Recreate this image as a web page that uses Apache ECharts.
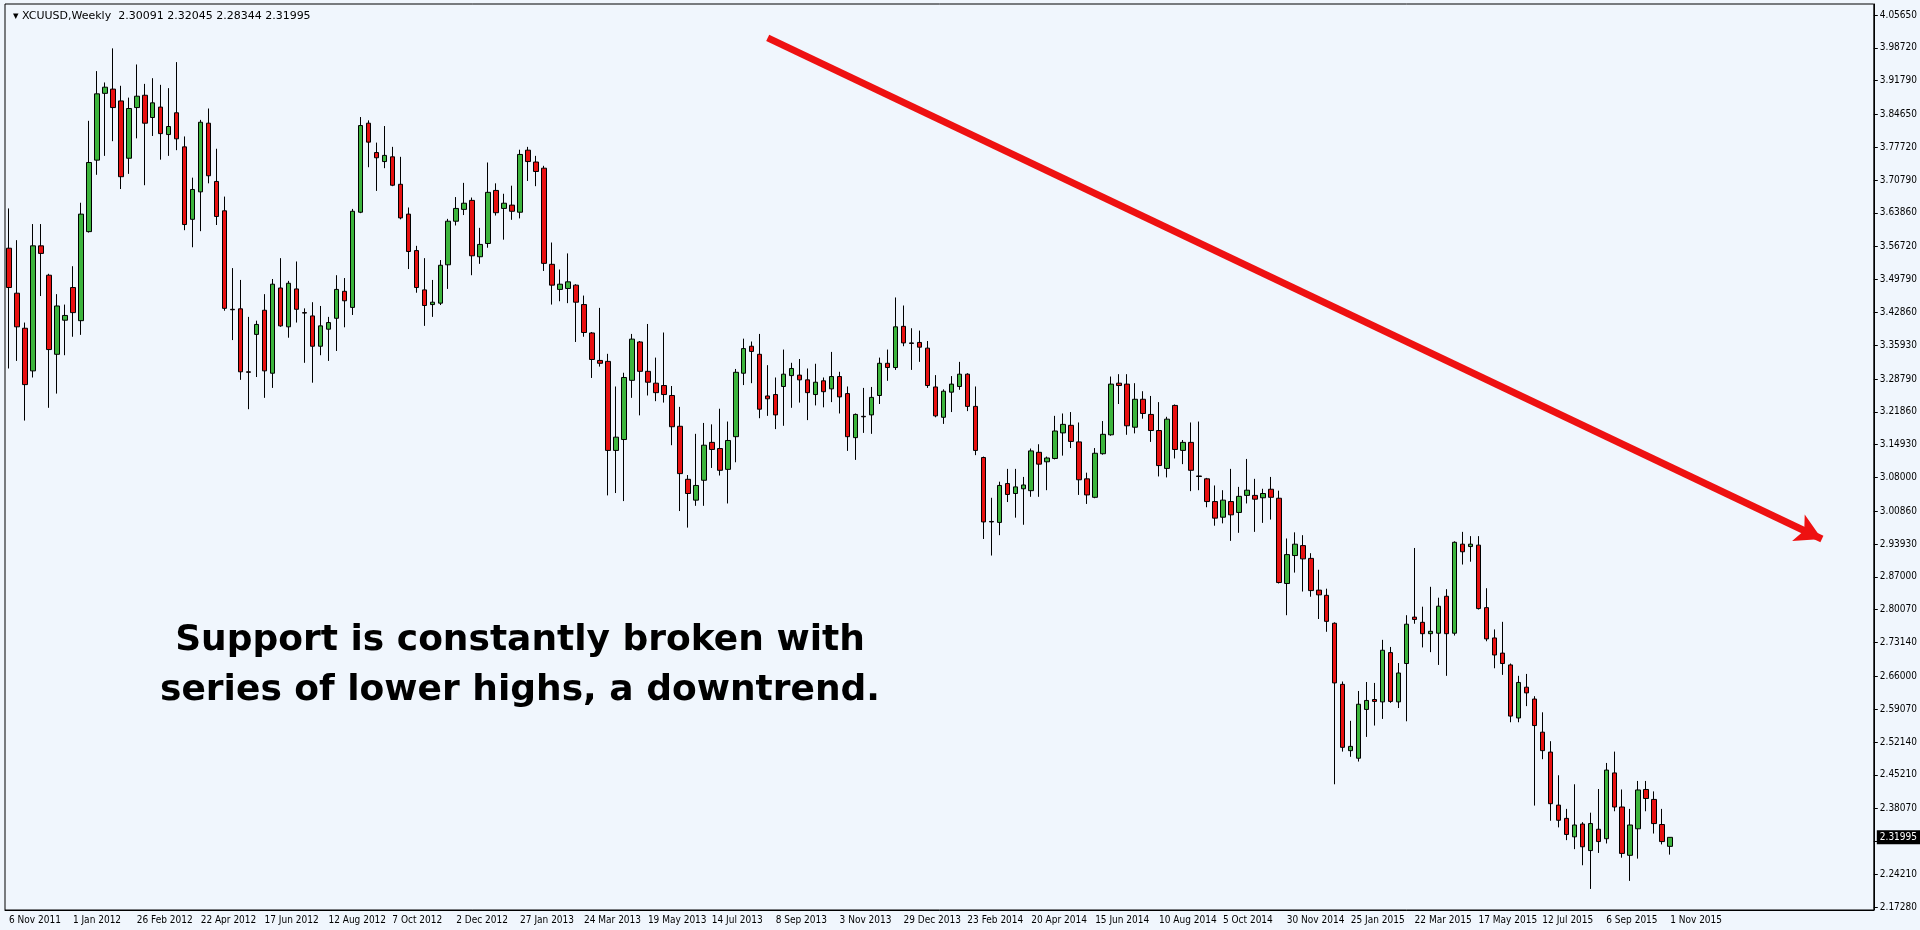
<!DOCTYPE html>
<html><head><meta charset="utf-8">
<script src="https://cdn.jsdelivr.net/npm/echarts@6/dist/echarts.min.js"></script>
<style>html,body{margin:0;padding:0;background:#f0f6fd}#c{width:1920px;height:930px}</style>
</head><body><div id="c"></div>
<script>
// OHLC as [open, close, low, high]
const ohlc = [
[3.564,3.481,3.310,3.648],[3.469,3.398,3.326,3.581],[3.395,3.276,3.200,3.407],[3.305,3.569,3.291,3.615],[3.569,3.553,3.463,3.615],
[3.507,3.350,3.227,3.510],[3.340,3.442,3.257,3.467],[3.412,3.422,3.338,3.445],[3.481,3.428,3.377,3.526],[3.411,3.636,3.381,3.660],
[3.599,3.745,3.597,3.833],[3.750,3.890,3.719,3.938],[3.891,3.904,3.759,3.914],[3.900,3.861,3.790,3.986],[3.875,3.715,3.689,3.907],
[3.754,3.859,3.721,3.882],[3.861,3.885,3.796,3.952],[3.887,3.828,3.697,3.911],[3.840,3.871,3.801,3.923],[3.862,3.806,3.751,3.909],
[3.804,3.821,3.759,3.902],[3.850,3.795,3.771,3.957],[3.778,3.614,3.602,3.800],[3.625,3.688,3.566,3.713],[3.683,3.830,3.600,3.835],
[3.828,3.717,3.701,3.859],[3.705,3.631,3.613,3.774],[3.643,3.437,3.432,3.673],[3.435,3.434,3.370,3.522],[3.436,3.303,3.286,3.497],
[3.303,3.302,3.224,3.419],[3.382,3.403,3.292,3.411],[3.433,3.305,3.248,3.467],[3.300,3.488,3.269,3.499],[3.480,3.400,3.398,3.543],
[3.398,3.490,3.375,3.495],[3.478,3.435,3.407,3.536],[3.428,3.427,3.322,3.437],[3.421,3.357,3.280,3.450],[3.357,3.400,3.338,3.442],
[3.393,3.407,3.326,3.419],[3.416,3.477,3.347,3.507],[3.473,3.453,3.397,3.501],[3.439,3.642,3.423,3.647],[3.640,3.823,3.638,3.841],
[3.828,3.788,3.735,3.834],[3.766,3.755,3.685,3.787],[3.747,3.760,3.733,3.822],[3.757,3.697,3.695,3.778],[3.699,3.628,3.625,3.757],
[3.636,3.557,3.520,3.650],[3.559,3.481,3.470,3.569],[3.476,3.443,3.400,3.543],[3.445,3.450,3.419,3.497],[3.448,3.528,3.444,3.539],
[3.529,3.621,3.478,3.626],[3.621,3.648,3.612,3.672],[3.646,3.659,3.634,3.702],[3.665,3.548,3.507,3.671],[3.546,3.572,3.531,3.607],
[3.574,3.682,3.565,3.745],[3.686,3.639,3.633,3.701],[3.648,3.659,3.582,3.679],[3.655,3.642,3.624,3.696],[3.640,3.762,3.627,3.772],
[3.771,3.747,3.706,3.778],[3.746,3.726,3.695,3.759],[3.733,3.532,3.516,3.738],[3.530,3.486,3.445,3.576],[3.477,3.488,3.452,3.519],
[3.479,3.493,3.448,3.553],[3.486,3.450,3.366,3.488],[3.445,3.386,3.377,3.464],[3.385,3.329,3.290,3.387],[3.327,3.321,3.314,3.438],
[3.325,3.137,3.042,3.341],[3.137,3.165,3.047,3.272],[3.160,3.291,3.030,3.301],[3.285,3.372,3.248,3.383],[3.366,3.304,3.211,3.368],
[3.304,3.281,3.253,3.404],[3.279,3.259,3.241,3.333],[3.274,3.255,3.238,3.386],[3.253,3.187,3.148,3.273],[3.188,3.088,3.009,3.229],
[3.076,3.046,2.974,3.085],[3.032,3.063,3.020,3.172],[3.074,3.148,3.020,3.195],[3.154,3.139,3.100,3.192],[3.141,3.095,3.084,3.225],
[3.097,3.158,3.025,3.198],[3.166,3.302,3.112,3.309],[3.300,3.352,3.275,3.373],[3.357,3.346,3.279,3.367],[3.340,3.224,3.205,3.383],
[3.252,3.246,3.210,3.317],[3.255,3.212,3.182,3.291],[3.272,3.298,3.189,3.350],[3.295,3.310,3.227,3.322],[3.296,3.286,3.238,3.330],
[3.286,3.259,3.201,3.310],[3.255,3.281,3.232,3.320],[3.284,3.261,3.228,3.291],[3.267,3.293,3.239,3.345],[3.293,3.250,3.215,3.303],
[3.257,3.166,3.136,3.272],[3.164,3.213,3.117,3.215],[3.209,3.208,3.174,3.269],[3.212,3.249,3.172,3.271],[3.253,3.321,3.235,3.333],
[3.321,3.312,3.284,3.350],[3.312,3.398,3.307,3.460],[3.399,3.364,3.357,3.443],[3.364,3.363,3.307,3.395],[3.365,3.355,3.324,3.390],
[3.353,3.274,3.269,3.368],[3.271,3.210,3.207,3.296],[3.207,3.262,3.193,3.266],[3.260,3.277,3.218,3.294],[3.272,3.298,3.265,3.324],
[3.298,3.230,3.220,3.300],[3.230,3.137,3.127,3.272],[3.122,2.986,2.950,3.124],[2.987,2.986,2.915,3.037],[2.985,3.063,2.958,3.071],
[3.067,3.044,3.028,3.098],[3.046,3.060,2.995,3.098],[3.056,3.064,2.980,3.081],[3.052,3.136,3.039,3.141],[3.133,3.108,3.039,3.150],
[3.113,3.121,3.053,3.124],[3.120,3.178,3.118,3.210],[3.174,3.192,3.126,3.215],[3.190,3.156,3.142,3.218],[3.155,3.075,3.043,3.196],
[3.077,3.043,3.024,3.090],[3.038,3.131,3.036,3.142],[3.130,3.171,3.128,3.199],[3.170,3.277,3.168,3.293],[3.279,3.274,3.235,3.298],
[3.277,3.189,3.170,3.298],[3.186,3.245,3.173,3.279],[3.245,3.215,3.204,3.262],[3.213,3.179,3.155,3.252],[3.179,3.105,3.082,3.239],
[3.099,3.203,3.080,3.208],[3.232,3.139,3.120,3.234],[3.137,3.154,3.108,3.159],[3.154,3.095,3.051,3.196],[3.083,3.082,3.053,3.198],
[3.077,3.029,3.017,3.079],[3.029,2.994,2.978,3.063],[2.996,3.032,2.983,3.053],[3.029,3.001,2.946,3.098],[3.006,3.040,2.963,3.060],
[3.042,3.053,3.025,3.119],[3.042,3.034,2.965,3.077],[3.037,3.046,2.984,3.056],[3.055,3.038,2.991,3.081],[3.036,2.858,2.856,3.052],
[2.856,2.917,2.789,2.951],[2.915,2.939,2.879,2.964],[2.936,2.908,2.839,2.958],[2.909,2.841,2.828,2.920],[2.842,2.832,2.781,2.885],
[2.831,2.776,2.754,2.845],[2.772,2.646,2.432,2.774],[2.643,2.510,2.501,2.649],[2.503,2.512,2.490,2.566],[2.487,2.601,2.480,2.629],
[2.590,2.609,2.532,2.648],[2.611,2.607,2.556,2.646],[2.606,2.715,2.570,2.737],[2.710,2.607,2.604,2.722],[2.606,2.667,2.593,2.688],
[2.687,2.770,2.565,2.789],[2.785,2.780,2.771,2.931],[2.774,2.750,2.721,2.807],[2.750,2.755,2.711,2.849],[2.751,2.808,2.684,2.826],
[2.829,2.750,2.661,2.844],[2.751,2.943,2.746,2.945],[2.939,2.923,2.896,2.965],[2.934,2.939,2.902,2.956],[2.937,2.803,2.801,2.956],
[2.805,2.739,2.734,2.846],[2.741,2.705,2.677,2.759],[2.709,2.687,2.663,2.775],[2.684,2.576,2.563,2.687],[2.572,2.647,2.563,2.661],
[2.637,2.625,2.597,2.665],[2.612,2.556,2.387,2.618],[2.542,2.503,2.485,2.584],[2.500,2.391,2.355,2.523],[2.388,2.356,2.341,2.451],
[2.360,2.326,2.314,2.380],[2.321,2.346,2.295,2.432],[2.348,2.300,2.261,2.352],[2.292,2.349,2.211,2.372],[2.337,2.311,2.287,2.422],
[2.317,2.462,2.307,2.477],[2.456,2.384,2.375,2.501],[2.384,2.286,2.277,2.421],[2.282,2.346,2.228,2.380],[2.338,2.420,2.275,2.439],
[2.421,2.402,2.375,2.439],[2.400,2.349,2.328,2.417],[2.347,2.311,2.305,2.380],[2.30091,2.31995,2.28344,2.32045]
];
const yTickLabels = [4.05650,3.98720,3.91790,3.84650,3.77720,3.70790,3.63860,3.56720,3.49790,3.42860,3.35930,3.28790,3.21860,3.14930,3.08000,3.00860,2.93930,2.87000,2.80070,2.73140,2.66000,2.59070,2.52140,2.45210,2.38070,2.31140,2.24210,2.17280];
const lastPrice = 2.31995;
const totalSlots = 234;
const startDate = Date.UTC(2011,10,6);
const MON = ['Jan','Feb','Mar','Apr','May','Jun','Jul','Aug','Sep','Oct','Nov','Dec'];
const categories = [];
for (let i=0;i<totalSlots;i++){const d=new Date(startDate+i*7*86400000);categories.push(d.getUTCDate()+' '+MON[d.getUTCMonth()]+' '+d.getUTCFullYear());}
const arrowStart = [95, 4.008], arrowEnd = [227, 2.950];

const chart = echarts.init(document.getElementById('c'));
chart.setOption({
  backgroundColor:'#f0f6fd',
  animation:false,
  title:{text:'\u25BE XCUUSD,Weekly  2.30091 2.32045 2.28344 2.31995',left:8,top:6,textStyle:{fontFamily:'DejaVu Sans',fontSize:11,fontWeight:'normal',color:'#000'}},
  grid:{left:5,right:44,top:4,bottom:20,show:true,borderColor:'#000',borderWidth:1,backgroundColor:'#f0f6fd'},
  xAxis:{type:'category',data:categories,boundaryGap:true,
    axisLine:{lineStyle:{color:'#000'}},
    axisTick:{interval:(i)=>i%8===0 && i<ohlc.length,alignWithLabel:true,length:4,lineStyle:{color:'#000'}},
    axisLabel:{interval:7,align:'left',margin:5,fontSize:10,fontFamily:'DejaVu Sans Condensed',color:'#000',
      formatter:(v,i)=> i<ohlc.length ? v : ''},
    splitLine:{show:false}},
  yAxis:{type:'value',position:'right',min:2.1665,max:4.0797,
    axisLine:{show:true,lineStyle:{color:'#000'}},
    axisTick:{show:true,customValues:yTickLabels,length:4,lineStyle:{color:'#000'}},
    axisLabel:{customValues:yTickLabels,formatter:v=>v.toFixed(5),fontSize:10,fontFamily:'DejaVu Sans Condensed',color:'#000',margin:6},
    splitLine:{show:false}},
  graphic:[{type:'text',x:520,y:616,z:10,style:{text:'Support is constantly broken with\nseries of lower highs, a downtrend.',font:'bold 36px "DejaVu Sans"',fill:'#000',lineHeight:50,align:'center',textAlign:'center'}}],
  series:[{type:'candlestick',data:ohlc,barWidth:5,
    itemStyle:{color:'#3cb43c',color0:'#e81010',borderColor:'#000',borderColor0:'#000',borderWidth:1},
    markLine:{silent:true,animation:false,symbol:['none','none'],data:[
      {yAxis:lastPrice,lineStyle:{color:'rgba(0,0,0,0)',width:1},label:{show:true,position:'end',formatter:'2.31995',backgroundColor:'#000',color:'#fff',fontSize:10,fontFamily:'DejaVu Sans Condensed',padding:[2,3],distance:3}},
      [{coord:arrowStart,symbol:'none'},{coord:arrowEnd,symbol:'arrow',symbolSize:[22,26]}]
    ],lineStyle:{color:'#ee1111',width:7,type:'solid'},label:{show:false}}
  }]
});
</script></body></html>
